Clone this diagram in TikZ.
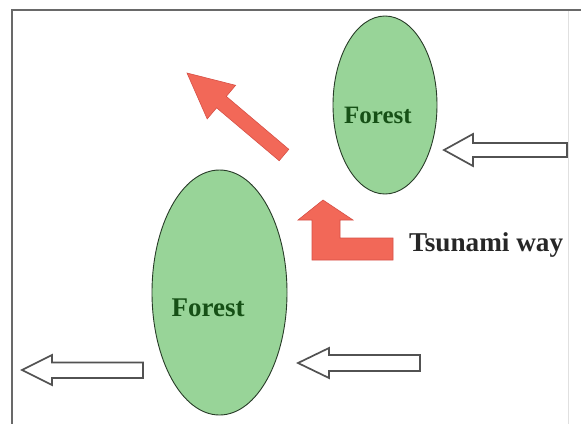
\documentclass[tikz,border=0pt]{standalone}
\usepackage{fontspec}
\setmainfont{Liberation Serif}
\usetikzlibrary{shapes.geometric}
\definecolor{forestfill}{RGB}{152,212,152}
\definecolor{forestline}{RGB}{40,60,40}
\definecolor{foresttext}{RGB}{22,80,22}
\definecolor{redfill}{RGB}{242,104,88}
\definecolor{redline}{RGB}{215,80,70}
\definecolor{frameline}{RGB}{105,105,105}
\begin{document}
\begin{tikzpicture}[x=1pt,y=-1pt,
  forestshape/.style={ellipse, draw=forestline, fill=forestfill, line width=0.9pt, inner sep=0pt},
  foresttxt/.style={anchor=base, text=foresttext, inner sep=0pt},
  redarrow/.style={fill=redfill, draw=redline, line width=0.6pt, line join=miter},
  whitearrow/.style={fill=white, draw=black!68, line width=1.7pt, line join=miter},
  framestyle/.style={draw=frameline, line width=1.8pt}]
\useasboundingbox (0,0) rectangle (581,424);
\fill[white] (0,0) rectangle (581,424);
% frame
\coordinate (fTR) at (581,10);
\coordinate (fTL) at (12,10);
\coordinate (fBL) at (12,424);
\draw[framestyle] (fTR) -- (fTL) -- (fBL);
\draw[draw=black!12, line width=0.8pt] (568,11) -- (568,424);
% forests
\node[forestshape, minimum width=104pt, minimum height=178pt] (forestA) at (385,105) {};
\node[foresttxt, font=\bfseries\fontsize{25}{25}\selectfont] (forestAtext) at (378,123) {Forest};
\node[forestshape, minimum width=135pt, minimum height=245pt] (forestB) at (219.5,292.5) {};
\node[foresttxt, font=\bfseries\fontsize{27}{27}\selectfont] (forestBtext) at (208,316) {Forest};
% red diagonal arrow
\draw[redarrow] (187,73) -- (235.6,85.3) -- (226.3,96.4) -- (288.8,149.3)
  -- (279.2,160.7) -- (216.6,107.8) -- (207.2,118.9) -- cycle;
% red L arrow
\draw[redarrow] (323,200) -- (353,220) -- (340,220) -- (340,238) -- (393,238)
  -- (393,260) -- (312,260) -- (312,220) -- (298,220) -- cycle;
% label
\node[anchor=base west, inner sep=0pt, font=\bfseries\fontsize{27.2}{27.2}\selectfont, text=black!85] (tsunami) at (409,251) {Tsunami way};
% white arrows
\draw[whitearrow] (444,150) -- (473,134) -- (473,143) -- (567,143) -- (567,157)
  -- (473,157) -- (473,166) -- cycle;
\draw[whitearrow] (298,363) -- (329,348) -- (329,355) -- (420,355) -- (420,371)
  -- (329,371) -- (329,378) -- cycle;
\draw[whitearrow] (22,370) -- (52,355) -- (52,362.5) -- (143,362.5) -- (143,378)
  -- (52,378) -- (52,385) -- cycle;
\end{tikzpicture}
\end{document}
